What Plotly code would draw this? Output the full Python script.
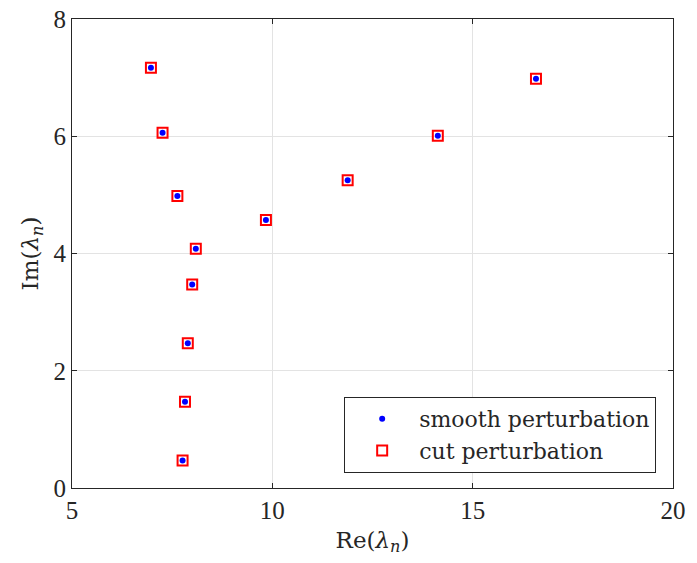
import plotly.graph_objects as go

re_vals = [6.97, 7.26, 7.63, 8.09, 8.00, 7.89, 7.82, 7.76, 9.84, 11.88, 14.13, 16.58]
im_vals = [7.17, 6.06, 4.98, 4.08, 3.47, 2.47, 1.47, 0.47, 4.57, 5.25, 6.01, 6.98]

FONT = "Liberation Serif"
FONT2 = "DejaVu Serif"

fig = go.Figure()
fig.add_trace(go.Scatter(
    x=re_vals, y=im_vals, mode="markers", name="smooth perturbation",
    marker=dict(symbol="circle", size=6, color="#0000ff", line=dict(width=0)),
))
fig.add_trace(go.Scatter(
    x=re_vals, y=im_vals, mode="markers", name="cut perturbation",
    marker=dict(symbol="square-open", size=10, color="#ff0000", line=dict(width=2, color="#ff0000")),
))

axis_common = dict(
    showline=True, linecolor="#262626", linewidth=1, mirror="ticks",
    ticks="inside", ticklen=5, tickcolor="#262626",
    showgrid=True, gridcolor="#e3e3e3", gridwidth=1, zeroline=False,
    ticklabeloverflow="allow", automargin=False,
    tickfont=dict(family=FONT, size=25, color="#262626"),
)

fig.update_layout(
    width=689, height=555,
    margin=dict(l=64, r=24, t=11, b=75),
    paper_bgcolor="white", plot_bgcolor="white",
    font=dict(family=FONT, color="#262626"),
    xaxis=dict(range=[5, 20], tickvals=[5, 10, 15, 20],
               title=dict(text="Re(<i>λ</i><sub><i>n</i></sub>)", font=dict(family=FONT2, size=23), standoff=8),
               **axis_common),
    yaxis=dict(range=[0, 8], tickvals=[0, 2, 4, 6, 8],
               title=dict(text="Im(<i>λ</i><sub><i>n</i></sub>)", font=dict(family=FONT2, size=23), standoff=8),
               **axis_common),
    legend=dict(x=0.972, y=0.032, xanchor="right", yanchor="bottom",
                bgcolor="white", bordercolor="#262626", borderwidth=1,
                font=dict(family=FONT2, size=22, color="#262626"),
                itemwidth=64, tracegroupgap=0),
    showlegend=True,
)

fig.write_html("out.html")
